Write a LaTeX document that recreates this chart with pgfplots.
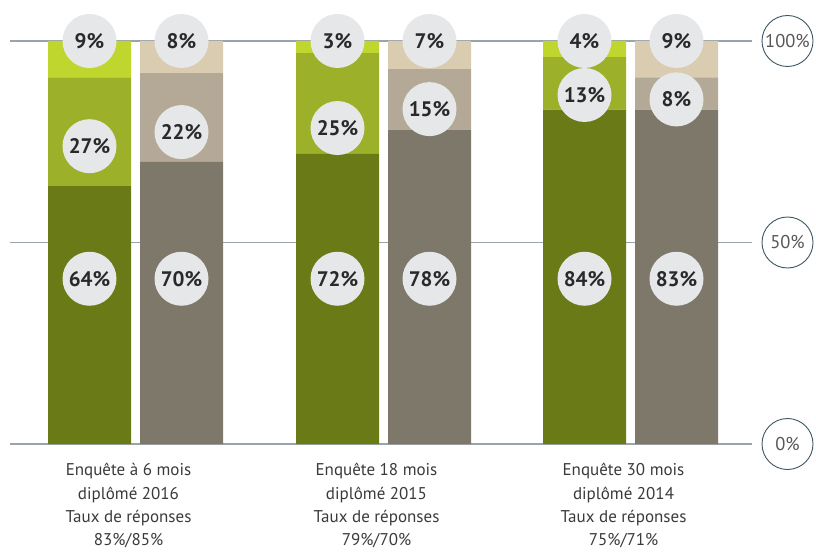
\documentclass[border=0pt]{standalone}
\usepackage{pgfplots}
\pgfplotsset{compat=1.18}
\usepackage{pgfplotstable}
\usepackage{fontspec}
\setmainfont{PT Sans}
\definecolor{lgreen}{HTML}{BFD62F}
\definecolor{mgreen}{HTML}{9CB129}
\definecolor{dgreen}{HTML}{6A7A16}
\definecolor{lbeige}{HTML}{DACCB1}
\definecolor{mtaupe}{HTML}{B4A997}
\definecolor{dtaupe}{HTML}{7E786A}
\definecolor{circ}{HTML}{E6E7E9}
\definecolor{gridc}{HTML}{9BA3AB}
\definecolor{slate}{HTML}{3E5563}
\definecolor{txt}{HTML}{3A3A3A}
\pgfplotstableread{
x gb gm gt rb rm rt
89.5 64 27 9 0 0 0
181.5 0 0 0 70 22 8
337.5 72 25 3 0 0 0
429.5 0 0 0 78 15 7
584.5 83 13 4 0 0 0
676.5 0 0 0 83 8 9
}\bars
\pgfplotstableread{
x y label
89.5 100 9
89.5 73.9 27
89.5 41 64
181.5 100 8
181.5 77.4 22
181.5 41 70
337.5 100 3
337.5 78.4 25
337.5 41 72
429.5 100 7
429.5 83.1 15
429.5 41 78
584.5 100 4
584.5 86.6 13
584.5 41 84
676.5 100 9
676.5 85.5 8
676.5 41 83
}\labels
\begin{document}
\begin{tikzpicture}
\begin{axis}[
  scale only axis, width=742bp, height=403bp,
  xmin=10, xmax=752, ymin=0, ymax=100,
  ybar stacked, bar width=83bp, bar shift=0pt,
  axis line style={draw=none},
  major tick length=0pt,
  ytick={0,50,100}, yticklabels={0\%,50\%,100\%},
  yticklabel pos=right,
  ymajorgrids, grid style={gridc, line width=1.6bp},
  yticklabel style={draw=slate, line width=0.9bp, circle, minimum size=51bp, inner sep=0pt, anchor=center, xshift=35.5bp, text=txt!85, font=\fontsize{18.5bp}{20bp}\selectfont},
  xtick={135.5,383.5,630.5},
  xticklabels={{Enquête à 6 mois\\diplômé 2016\\Taux de réponses\\83\%/85\%},{Enquête 18 mois\\diplômé 2015\\Taux de réponses\\79\%/70\%},{Enquête 30 mois\\diplômé 2014\\Taux de réponses\\75\%/71\%}},
  xticklabel style={align=center, anchor=north, yshift=-16bp, xshift=-7bp, text=txt, font=\fontsize{17bp}{23.3bp}\selectfont},
  every axis plot/.append style={draw=none},
]
\addplot[fill=dgreen] table[x=x,y=gb]{\bars};
\addplot[fill=mgreen] table[x=x,y=gm]{\bars};
\addplot[fill=lgreen] table[x=x,y=gt]{\bars};
\addplot[fill=dtaupe] table[x=x,y=rb]{\bars};
\addplot[fill=mtaupe] table[x=x,y=rm]{\bars};
\addplot[fill=lbeige] table[x=x,y=rt]{\bars};
\end{axis}
\begin{axis}[
  scale only axis, width=742bp, height=403bp,
  xmin=10, xmax=752, ymin=0, ymax=100,
  axis lines=none, clip=false,
]
\addplot[only marks, mark=none, point meta=explicit symbolic,
  nodes near coords={\pgfplotspointmeta\%},
  nodes near coords style={circle, fill=circ, minimum size=54bp, inner sep=0pt, anchor=center, text=txt!70!black, font=\bfseries\fontsize{21bp}{24bp}\selectfont}]
  table[x=x,y=y,meta=label]{\labels};
\end{axis}
\pgfresetboundingbox
\path[use as bounding box] ([shift={(-10bp,-108bp)}]current axis.south west) rectangle ([shift={(64bp,41bp)}]current axis.north east);
\end{tikzpicture}
\end{document}
